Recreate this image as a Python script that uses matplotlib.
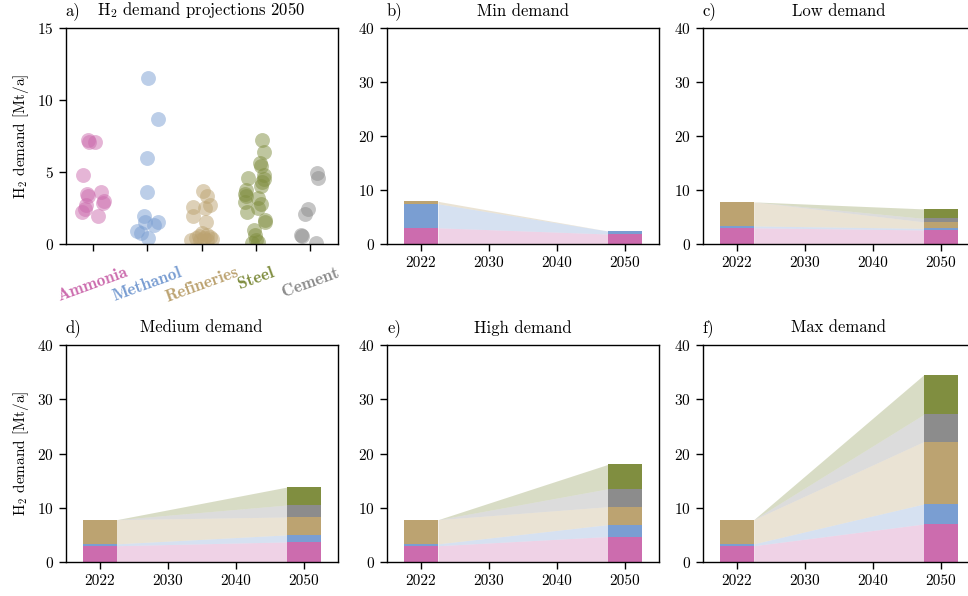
import numpy as np
import matplotlib.pyplot as plt

plt.rcParams['font.family'] = ['cmr10', 'DejaVu Serif']
plt.rcParams['mathtext.fontset'] = 'cm'
plt.rcParams['axes.formatter.use_mathtext'] = True
plt.rcParams['font.size'] = 11
plt.rcParams['axes.titlepad'] = 9

# colours per sector
colors = {'Ammonia': '#cc6cae', 'Methanol': '#7a9ed2', 'Refineries': '#bca371',
          'Cement': '#8c8c8c', 'Steel': '#808e40'}

# panel a: 2050 projections per sector (value, horizontal jitter)
strip_sectors = ['Ammonia', 'Methanol', 'Refineries', 'Steel', 'Cement']
ammonia_vals = [7.2, 7.05, 7.05, 4.8, 3.5, 3.35, 3.6, 3.0, 2.85, 2.7, 2.45, 2.2, 1.95]
ammonia_jit = [-0.09, -0.06, 0.05, -0.18, -0.1, -0.09, 0.16, 0.2, 0.19, -0.12, -0.14, -0.19, 0.1]
methanol_vals = [11.5, 8.7, 6.0, 3.6, 1.95, 1.55, 1.3, 1.5, 0.9, 0.75, 0.45]
methanol_jit = [0.01, 0.2, 0.0, -0.01, -0.05, 0.2, 0.12, -0.04, -0.18, -0.11, 0.02]
refineries_vals = [3.7, 3.3, 2.7, 2.55, 2.5, 1.95, 1.55, 0.75, 0.6, 0.55, 0.5, 0.45,
                   0.4, 0.35, 0.3, 0.3, 0.25]
refineries_jit = [0.02, 0.1, 0.15, -0.15, 0.06, -0.15, 0.08, 0.0, 0.1, -0.05, 0.15, 0.05,
                  -0.1, 0.2, -0.2, 0.1, -0.02]
steel_vals = [7.2, 6.4, 5.6, 5.4, 4.8, 4.55, 4.5, 4.3, 4.0, 3.75, 3.5, 3.3, 3.2, 2.95,
              2.75, 2.5, 2.2, 1.7, 1.5, 1.0, 0.6, 0.3, 0.15, 0.1]
steel_jit = [0.12, 0.14, 0.08, 0.09, 0.14, -0.14, 0.15, 0.12, 0.1, -0.19, -0.2, -0.19, 0.04,
             -0.2, 0.09, 0.04, -0.17, 0.16, 0.16, -0.04, -0.02, 0.01, 0.04, -0.08]
cement_vals = [4.95, 4.55, 2.4, 2.05, 0.65, 0.55, 0.05]
cement_jit = [0.13, 0.14, -0.05, -0.09, -0.17, -0.16, 0.1]
strip_vals = [ammonia_vals, methanol_vals, refineries_vals, steel_vals, cement_vals]
strip_jit = [ammonia_jit, methanol_jit, refineries_jit, steel_jit, cement_jit]

# scenario panels: stacked demand 2022 vs 2050 [Mt/a]
stack_sectors = ['Ammonia', 'Methanol', 'Refineries', 'Cement', 'Steel']
year_labels = ['2022', '2030', '2040', '2050']
demand_2022_min = [3.0, 4.45, 0.45, 0, 0]
demand_2022 = [3.0, 0.35, 4.45, 0, 0]
min_2050 = [1.85, 0.55, 0, 0, 0]
low_2050 = [2.6, 0.3, 1.2, 0.65, 1.75]
medium_2050 = [3.7, 1.3, 3.3, 2.2, 3.3]
high_2050 = [4.7, 2.2, 3.3, 3.3, 4.5]
max_2050 = [7.0, 3.7, 11.5, 5.0, 7.3]

scenarios = [('b)', 'Min demand', demand_2022_min, min_2050),
             ('c)', 'Low demand', demand_2022, low_2050),
             ('d)', 'Medium demand', demand_2022, medium_2050),
             ('e)', 'High demand', demand_2022, high_2050),
             ('f)', 'Max demand', demand_2022, max_2050)]

W, H = 968, 596
fig = plt.figure(figsize=(W / 100, H / 100), dpi=100)

def px_axes(x0, x1, y0, y1):
    return fig.add_axes([x0 / W, 1 - y1 / H, (x1 - x0) / W, (y1 - y0) / H])

boxes = [(65.5, 337.5, 28, 244), (387, 659, 28, 244), (702.7, 974.7, 28, 244),
         (65.5, 337.5, 345, 562), (387, 659, 345, 562), (702.7, 974.7, 345, 562)]
axes = [px_axes(*b) for b in boxes]

for ax in axes:
    ax.tick_params(direction='out', length=5, width=1)
    for s in ax.spines.values():
        s.set_linewidth(1)

# panel a
ax = axes[0]
for i, sec in enumerate(strip_sectors):
    x = i + np.array(strip_jit[i])
    ax.scatter(x, strip_vals[i], s=115, color=colors[sec], alpha=0.5, linewidths=0)
ax.set_xlim(-0.5, 4.5)
ax.set_ylim(0, 15)
ax.set_yticks([0, 5, 10, 15])
ax.set_xticks(range(len(strip_sectors)))
ax.set_xticklabels(strip_sectors, rotation=20, fontsize=12.5, family='cmb10')
ax.tick_params(axis='x', pad=10)
for lab, sec in zip(ax.get_xticklabels(), strip_sectors):
    lab.set_color(colors[sec])
ax.set_ylabel('H$_2$ demand [Mt/a]')
ax.set_title('a)', loc='left', fontsize=12)
ax.set_title('H$_2$ demand projections 2050', fontsize=12)

# scenario panels
for ax, (tag, title, d22, d50) in zip(axes[1:], scenarios):
    b22 = np.concatenate([[0], np.cumsum(d22)])
    b50 = np.concatenate([[0], np.cumsum(d50)])
    for k, sec in enumerate(stack_sectors):
        ax.bar(0, d22[k], bottom=b22[k], width=0.5, color=colors[sec], linewidth=0)
        ax.bar(3, d50[k], bottom=b50[k], width=0.5, color=colors[sec], linewidth=0)
        ax.fill_between([0.25, 2.75], [b22[k], b50[k]], [b22[k + 1], b50[k + 1]],
                        color=colors[sec], alpha=0.3, linewidth=0)
    ax.set_xlim(-0.5, 3.5)
    ax.set_ylim(0, 40)
    ax.set_yticks([0, 10, 20, 30, 40])
    ax.set_xticks(range(4))
    ax.set_xticklabels(year_labels)
    ax.set_title(tag, loc='left', fontsize=12)
    ax.set_title(title, fontsize=12)

axes[3].set_ylabel('H$_2$ demand [Mt/a]')

fig.savefig('out.png', dpi=100)
